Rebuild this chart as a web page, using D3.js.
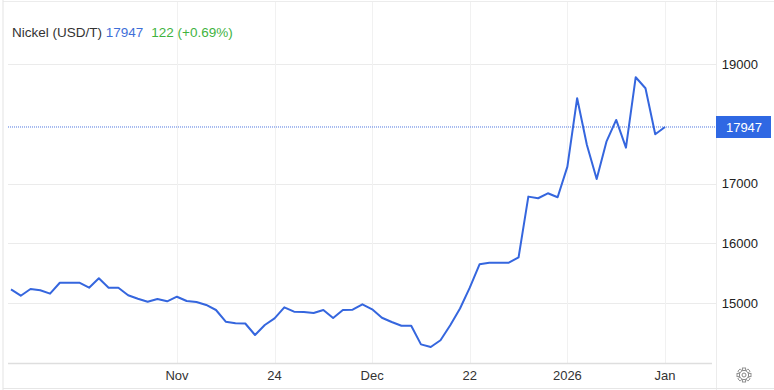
<!DOCTYPE html>
<html>
  <head>
    <meta charset="utf-8" />
    <title>Nickel</title>
    <script src="https://d3js.org/d3.v7.min.js"></script>
    <style>
      body { margin: 0; background: #fff; }
      svg text { font-family: "Liberation Sans", Arial, sans-serif; }
    </style>
  </head>
  <body>
    <svg id="chart" width="774" height="390"></svg>
    <script>
        // nickel price, USD/T, one value per session
        var prices = [
            15234, 15127, 15239, 15217, 15161, 15344, 15344, 15344, 15261, 15418,
            15261, 15261, 15134, 15077, 15027, 15072, 15033, 15110, 15038, 15022,
            14972, 14888, 14692, 14666, 14662, 14470, 14637, 14749, 14933, 14860,
            14855, 14838, 14888, 14754, 14888, 14893, 14983, 14900, 14759, 14687,
            14625, 14625, 14314, 14269, 14383, 14634, 14913, 15261, 15652, 15679,
            15679, 15679, 15769, 16783, 16756, 16839, 16773, 17284, 18428, 17647,
            17079, 17702, 18065, 17602, 18779, 18595, 17825, 17947
        ];

        var tickLabels = ["Nov", "24", "Dec", "22", "2026", "Jan"];
        var tickIndex = [17, 27, 37, 47, 57, 67];
        var yTicks = [15000, 16000, 17000, 19000];

        var lastValue = 17947;
        var change = "122 (+0.69%)";

        var svg = d3.select("#chart");

        var x = d3.scaleLinear().domain([0, prices.length - 1]).range([11, 665]);
        var y = d3.scaleLinear().domain([15000, 19000]).range([303.3, 64]);

        // frame
        svg.append("line").attr("x1", 3).attr("x2", 774).attr("y1", 1.5).attr("y2", 1.5)
            .attr("stroke", "#ececec");
        svg.append("line").attr("x1", 3).attr("x2", 3).attr("y1", 0).attr("y2", 390)
            .attr("stroke", "#e3e3e3");
        svg.append("line").attr("x1", 716.5).attr("x2", 716.5).attr("y1", 0).attr("y2", 390)
            .attr("stroke", "#ececec");
        svg.append("line").attr("x1", 3).attr("x2", 774).attr("y1", 388.5).attr("y2", 388.5)
            .attr("stroke", "#e6e6e6");

        // grid
        svg.append("g").selectAll("line").data(yTicks).enter().append("line")
            .attr("x1", 8).attr("x2", 716)
            .attr("y1", function(d) { return Math.round(y(d)) + 0.5; })
            .attr("y2", function(d) { return Math.round(y(d)) + 0.5; })
            .attr("stroke", "#ebebeb");

        svg.append("g").selectAll("line").data(tickIndex).enter().append("line")
            .attr("x1", function(d) { return Math.round(x(d)) + 0.5; })
            .attr("x2", function(d) { return Math.round(x(d)) + 0.5; })
            .attr("y1", 2).attr("y2", 363)
            .attr("stroke", "#f1f1f1");

        // bottom axis line
        svg.append("line").attr("x1", 8).attr("x2", 712).attr("y1", 363.5).attr("y2", 363.5)
            .attr("stroke", "#dedede").attr("stroke-width", 1.5);

        // x labels
        svg.append("g").selectAll("text").data(tickIndex).enter().append("text")
            .attr("x", function(d) { return x(d); })
            .attr("y", 380)
            .attr("text-anchor", "middle")
            .attr("font-size", 13)
            .attr("fill", "#333")
            .text(function(d, i) { return tickLabels[i]; });

        // y labels
        svg.append("g").selectAll("text").data(yTicks).enter().append("text")
            .attr("x", 758)
            .attr("y", function(d) { return y(d) + 4.5; })
            .attr("text-anchor", "end")
            .attr("font-size", 13)
            .attr("fill", "#222")
            .text(function(d) { return d; });

        // last value line
        svg.append("line").attr("x1", 8).attr("x2", 716)
            .attr("y1", y(lastValue)).attr("y2", y(lastValue))
            .attr("stroke", "#4f78e0").attr("stroke-width", 1)
            .attr("stroke-dasharray", "1,1");

        // price line
        var line = d3.line()
            .x(function(d, i) { return x(i); })
            .y(function(d) { return y(d); });

        svg.append("path").datum(prices)
            .attr("d", line)
            .attr("fill", "none")
            .attr("stroke", "#3566de")
            .attr("stroke-width", 2)
            .attr("stroke-linejoin", "round");

        // last value tag
        svg.append("rect").attr("x", 716).attr("y", y(lastValue) - 11)
            .attr("width", 55).attr("height", 22).attr("fill", "#2f68e3");
        svg.append("text").attr("x", 744).attr("y", y(lastValue) + 5)
            .attr("text-anchor", "middle").attr("font-size", 13).attr("fill", "#fff")
            .text(lastValue);

        // title
        var title = svg.append("text").attr("x", 12).attr("y", 37).attr("font-size", 13.5);
        title.append("tspan").attr("fill", "#333").text("Nickel (USD/T) ");
        title.append("tspan").attr("fill", "#3f6fd8").text(lastValue);
        title.append("tspan").attr("fill", "#3fb33f").attr("dx", 8).text(change);

        // settings gear
        var gear = svg.append("g").attr("transform", "translate(744,375)");
        d3.range(8).forEach(function(k) {
            gear.append("rect").attr("x", -1.6).attr("y", -7).attr("width", 3.2).attr("height", 3.5)
                .attr("fill", "none").attr("stroke", "#888").attr("stroke-width", 0.9)
                .attr("transform", "rotate(" + (k * 45) + ")");
        });
        gear.append("circle").attr("r", 4.6).attr("fill", "#fff").attr("stroke", "#888").attr("stroke-width", 1);
        gear.append("circle").attr("r", 2).attr("fill", "#fff").attr("stroke", "#888").attr("stroke-width", 1);
    </script>
  </body>
</html>
